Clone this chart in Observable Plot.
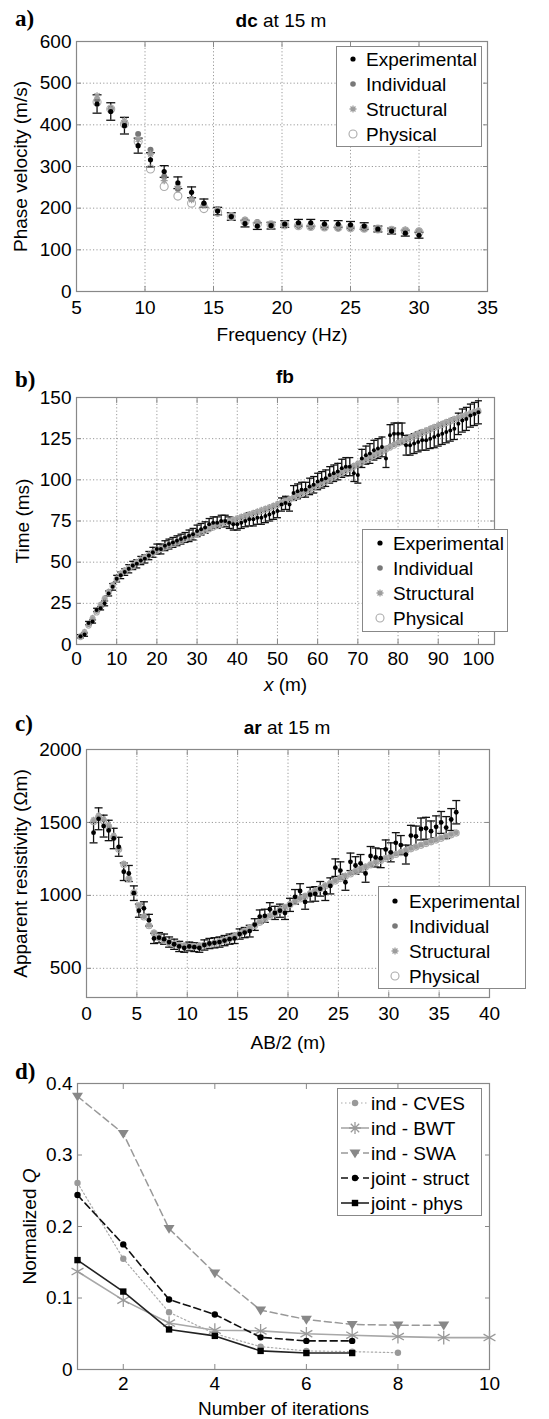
<!DOCTYPE html>
<html><head><meta charset="utf-8">
<script src="https://cdn.jsdelivr.net/npm/d3@7"></script>
<script src="https://cdn.jsdelivr.net/npm/@observablehq/plot@0.6"></script>
<style>
body{margin:0;background:#fff;}
#page{position:relative;width:549px;height:1419px;font-family:"Liberation Sans",Arial,sans-serif;color:#000;overflow:hidden;background:#fff}
.panel{position:absolute;left:0;width:549px}
.plab{position:absolute;font-family:"Liberation Serif","Times New Roman",serif;font-weight:bold;font-size:23px;line-height:1;white-space:nowrap}
.title{position:absolute;font-size:19px;line-height:1;transform:translateX(-50%);white-space:nowrap}
.legend{position:absolute;border:1px solid #888;background:#fff;box-sizing:border-box}
.ltext{position:absolute;font-size:19px;line-height:1;white-space:nowrap}
.lmark{position:absolute;overflow:visible}
</style></head>
<body><div id="page">
<div class="panel" id="pa" style="top:0px"></div>
<div class="panel" id="pb" style="top:345px"></div>
<div class="panel" id="pc" style="top:694px"></div>
<div class="panel" id="pd" style="top:1045px"></div>
</div>
<script>
// ---------------- Panel a: dc at 15 m ----------------
const freqA = [6.5,7.5,8.5,9.5,10.4,11.4,12.4,13.4,14.3,15.3,16.3,17.3,18.2,19.2,20.2,21.2,22.1,23.1,24.1,25.0,26.0,27.0,28.0,29.0,30.0];
const expA  = [450,432,398,350,316,288,261,238,212,193,180,163,157,158,162,165,165,162,162,160,157,150,145,140,135];
const errA  = [22,21,20,18,17,14,14,13,10,9,9,8,8,8,8,8,8,8,8,8,8,7,7,7,7];
const indA  = [460,440,405,378,340,276,246,222,208,198,180,173,167,162,160,157,155,153,152,152,150,150,147,147,145];
const strA  = [470,438,410,365,330,266,252,220,207,196,182,170,164,160,161,160,158,156,155,155,153,151,148,148,146];
const phyA  = [455,438,402,360,294,252,229,212,199,190,180,168,162,160,160,158,156,155,154,153,152,150,147,145,143];
const xTicksA = [5,10,15,20,25,30,35];
const yTicksA = [0,100,200,300,400,500,600];

// ---------------- Panel b: fb ----------------
const xB = [1,2,3,4,5,6,7,8,9,10,11,12,13,14,15,16,17,18,19,20,21,22,23,24,25,26,27,28,29,30,31,32,33,34,35,36,37,38,39,40,41,42,43,44,45,46,47,48,49,50,51,52,53,54,55,56,57,58,59,60,61,62,63,64,65,66,67,68,69,70,71,72,73,74,75,76,77,78,79,80,81,82,83,84,85,86,87,88,89,90,91,92,93,94,95,96,97,98,99,100];
const expB = [5,6,13,14,21,22,25,31,35,40,
  42,44,46,48,49,51,52,54,56,58,
  58,60,61,62,63,64,65,66,67,69,
  70,71,73,74,74,75,75,74,73,73,
  74,75,76,76,77,77,78,79,80,81,
  85,86,85,92,93,94,94,96,97,99,
  100,101,103,104,105,107,108,108,104,103,
  113,115,116,118,119,120,113,127,128,128,
  128,121,121,122,123,124,124,125,126,127,
  128,129,130,131,134,136,137,139,140,141];
const errB = [1,1,1,1,1,1,1.5,1.5,2,2,
  2,2,2.5,2.5,2.5,2.5,2.5,2.5,3,3,
  3,3,3,3,3,3,3,3.5,3.5,3.5,
  3.5,3.5,3.5,3.5,3.5,3.5,3.5,3.5,3.5,3.5,
  3.5,3.5,4,4,4,4,4,4,4,4,
  4,4,4,4.5,4.5,4.5,4.5,5,5,5,
  5,5,5,5,5,5.5,5.5,5.5,5,5,
  5.5,5.5,6,6,6,6,5.5,6.5,6.5,6.5,
  6.5,6,6,6,6,6,6,6,6.5,6.5,
  6.5,6.5,6.5,6.5,6.5,7,7,7,7,7];
const indB = [5,7.5,12,16,20,24,28,32,36,40,
  43,45,46.5,48,50,51.5,53,54.5,56,57.5,
  58.5,59.5,60.5,61.5,62.5,63.5,64.5,65.5,66.5,67.5,
  68.5,69.5,70.5,71.5,72.5,73.5,74.3,75,75.8,76.6,
  77.4,78.2,79,79.8,80.6,81.5,82.4,83.3,84.2,85.2,
  86.2,87.2,88.3,89.4,90.6,91.8,93,94.2,95.5,96.8,
  98.1,99.4,100.7,102,103.3,104.6,105.9,107.2,108.5,109.8,
  111.1,112.4,113.7,115,116.3,117.6,118.9,120.1,121.3,122.5,
  123.6,124.7,125.8,126.9,128,129,130,131,132,133,
  134,135,136,136.9,137.8,138.7,139.6,140.4,141.2,142];
const strB = [5.5,8,12.5,16.5,20.5,24.5,28.5,32.5,36.5,40.5,
  43.5,45.5,47,48.5,50.5,52,53.5,55,56.5,58,
  59,60,61,62,63,64,65,66,67,68,
  69,70,71,72,73,74,74.8,75.5,76.3,77.1,
  77.9,78.7,79.5,80.3,81.1,82,82.9,83.8,84.7,85.7,
  86.7,87.7,88.8,89.9,91.1,92.3,93.5,94.7,96,97.3,
  98.6,99.9,101.2,102.5,103.8,105.1,106.4,107.7,109,110.3,
  111.6,112.9,114.2,115.5,116.8,118.1,119.4,120.6,121.8,123,
  124.1,125.2,126.3,127.4,128.5,129.5,130.5,131.5,132.5,133.5,
  134.5,135.5,136.5,137.4,138.3,139.2,140.1,140.9,141.7,142.5];
const phyB = [4.5,7,11.5,15.5,19.5,23.5,27.5,31.5,35.5,39.5,
  42.5,44.5,46,47.5,49.5,51,52.5,54,55.5,57,
  58,59,60,61,62,63,64,65,66,67,
  68,69,70,71,72,73,73.8,74.5,75.3,76.1,
  76.9,77.7,78.5,79.3,80.1,81,81.9,82.8,83.7,84.7,
  85.7,86.7,87.8,88.9,90.1,91.3,92.5,93.7,95,96.3,
  97.6,98.9,100.2,101.5,102.8,104.1,105.4,106.7,108,109.3,
  110.6,111.9,113.2,114.5,115.8,117.1,118.4,119.6,120.8,122,
  123.1,124.2,125.3,126.4,127.5,128.5,129.5,130.5,131.5,132.5,
  133.5,134.5,135.5,136.4,137.3,138.2,139.1,139.9,140.7,141.5];
const xTicksB = [0,10,20,30,40,50,60,70,80,90,100];
const yTicksB = [0,25,50,75,100,125,150];

// ---------------- Panel c: ar at 15 m ----------------
const abC = [0.7,1.2,1.7,2.2,2.7,3.2,3.7,4.2,4.7,5.2,
  5.7,6.2,6.7,7.2,7.7,8.2,8.7,9.2,9.7,10.2,
  10.7,11.2,11.7,12.2,12.7,13.2,13.7,14.2,14.7,15.2,
  15.7,16.2,16.7,17.2,17.7,18.2,18.7,19.2,19.7,20.2,
  20.7,21.2,21.7,22.2,22.7,23.2,23.7,24.2,24.7,25.2,
  25.7,26.2,26.7,27.2,27.7,28.2,28.7,29.2,29.7,30.2,
  30.7,31.2,31.7,32.2,32.7,33.2,33.7,34.2,34.7,35.2,
  35.7,36.2,36.7];
const expC = [1430,1525,1475,1445,1390,1333,1162,1150,1015,895,
  911,830,705,710,700,680,665,650,640,650,
  645,640,660,670,675,680,690,700,705,735,
  745,755,800,855,860,905,880,895,880,935,
  990,1030,955,1005,1010,1045,1015,1065,1190,1170,
  1090,1230,1205,1220,1150,1270,1260,1255,1315,1295,
  1360,1345,1280,1410,1405,1455,1460,1440,1470,1500,
  1465,1520,1570];
const errC = [70,75,75,70,70,65,60,55,50,45,
  45,40,35,35,35,35,35,35,30,30,
  30,30,35,35,35,35,35,35,35,35,
  35,40,40,45,45,45,45,45,45,45,
  50,50,50,50,50,50,50,55,60,60,
  55,60,60,60,60,65,65,65,65,65,
  70,65,65,70,70,75,75,70,75,75,
  75,75,80];
const indC = [1510,1540,1515,1475,1405,1320,1215,1115,1020,930,
  855,795,745,712,692,678,668,660,655,652,
  652,655,660,666,674,683,694,706,720,738,
  757,777,797,818,839,860,880,900,920,940,
  959,978,996,1014,1032,1050,1067,1084,1101,1118,
  1134,1150,1166,1182,1197,1212,1227,1242,1256,1270,
  1283,1296,1309,1322,1334,1346,1358,1370,1382,1394,
  1406,1418,1430];
const strC = [1520,1550,1525,1485,1412,1326,1220,1118,1022,932,
  857,797,747,714,694,680,670,662,657,654,
  654,657,662,668,676,685,696,708,722,740,
  759,779,800,821,842,863,883,903,923,943,
  962,981,999,1017,1035,1053,1070,1087,1104,1121,
  1137,1153,1169,1185,1200,1215,1230,1245,1259,1273,
  1286,1299,1312,1325,1337,1349,1361,1373,1385,1397,
  1409,1421,1433];
const phyC = [1505,1535,1510,1470,1400,1316,1212,1112,1018,928,
  852,792,742,709,690,676,666,658,653,650,
  650,653,658,664,672,681,692,704,717,735,
  754,774,794,815,836,857,877,897,917,937,
  956,975,993,1011,1029,1047,1064,1081,1098,1115,
  1131,1147,1163,1179,1194,1209,1224,1239,1253,1267,
  1280,1293,1306,1319,1331,1343,1355,1367,1379,1391,
  1403,1415,1427];
const xTicksC = [0,5,10,15,20,25,30,35,40];
const yTicksC = [500,1000,1500,2000];

// ---------------- Panel d: convergence ----------------
const iterCVES = [1,2,3,4,5,6,7,8];
const qCVES    = [0.261,0.155,0.080,0.050,0.032,0.026,0.025,0.0235];
const iterBWT  = [1,2,3,4,5,6,7,8,9,10];
const qBWT     = [0.137,0.097,0.065,0.055,0.054,0.050,0.048,0.046,0.0446,0.0446];
const iterSWA  = [1,2,3,4,5,6,7,8,9];
const qSWA     = [0.382,0.330,0.197,0.135,0.083,0.070,0.063,0.062,0.062];
const iterStruct = [1,2,3,4,5,6,7];
const qStruct    = [0.244,0.175,0.098,0.077,0.045,0.040,0.040];
const iterPhys   = [1,2,3,4,5,6,7];
const qPhys      = [0.153,0.109,0.056,0.047,0.026,0.023,0.023];
const xTicksD = [2,4,6,8,10];
const yTicksD = [0,0.1,0.2,0.3,0.4];

const fitLegend = ["Experimental","Individual","Structural","Physical"];
const convLegend = ["ind - CVES","ind - BWT","ind - SWA","joint - struct","joint - phys"];

// ---------------- helpers ----------------
const CAP = {draw(ctx, size){ const r = Math.sqrt(size/Math.PI); ctx.moveTo(-r,0); ctx.lineTo(r,0); }};
const STAR = {draw(ctx, size){ const r = Math.sqrt(size/Math.PI);
  for (let k = 0; k < 4; k++) { const a = k*Math.PI/4; ctx.moveTo(-r*Math.cos(a), -r*Math.sin(a)); ctx.lineTo(r*Math.cos(a), r*Math.sin(a)); } }};
const TRI_DOWN = {draw(ctx, size){ const r = Math.sqrt(size/Math.PI);
  ctx.moveTo(-r, -r*0.65); ctx.lineTo(r, -r*0.65); ctx.lineTo(0, r*0.95); ctx.closePath(); }};
const GRID = {stroke:"#9a9a9a", strokeOpacity:1, strokeDasharray:"1.2,2.2", strokeWidth:1};
const fmt = d => String(d);

function axisMarks(o){
  const m = [];
  if (o.grid) m.push(Plot.gridX(o.xt, GRID), Plot.gridY(o.yt, GRID));
  m.push(Plot.frame({stroke:"#888", strokeWidth:1.2}));
  m.push(Plot.axisX(o.xt, {anchor:"bottom", tickSize:-5, tickPadding:o.xPad+5, stroke:"#888", tickFormat:fmt,
    label:o.xlab, labelAnchor:"center", labelOffset:o.xLabOff, labelArrow:"none"}));
  m.push(Plot.axisX(o.xt, {anchor:"top", tickSize:-5, stroke:"#888", tickFormat:() => "", label:null}));
  m.push(Plot.axisY(o.yt, {anchor:"left", tickSize:-5, tickPadding:o.yPad+5, stroke:"#888", tickFormat:fmt,
    label:o.ylab, labelAnchor:"center", labelOffset:o.yLabOff, labelArrow:"none"}));
  m.push(Plot.axisY(o.yt, {anchor:"right", tickSize:-5, stroke:"#888", tickFormat:() => "", label:null}));
  return m;
}

function fitMarks(rows, capR, s){
  return [
    Plot.ruleX(rows, {x:"x", y1:"lo", y2:"hi", stroke:"#111", strokeWidth:1.3}),
    Plot.dot(rows, {x:"x", y:"lo", symbol:CAP, r:capR, stroke:"#111", strokeWidth:1.3, fill:"none"}),
    Plot.dot(rows, {x:"x", y:"hi", symbol:CAP, r:capR, stroke:"#111", strokeWidth:1.3, fill:"none"}),
    Plot.dot(rows, {x:"x", y:"ind", r:s.ind, fill:"#787878", stroke:"none"}),
    Plot.dot(rows, {x:"x", y:"str", r:s.str, symbol:STAR, stroke:"#9c9c9c", strokeWidth:1.3, fill:"none"}),
    Plot.dot(rows, {x:"x", y:"phy", r:s.phy, stroke:"#ababab", fill:"none", strokeWidth:1.1}),
    Plot.dot(rows, {x:"x", y:"e", r:s.exp, fill:"#000", stroke:"none"})
  ];
}

function buildRows(xs, e, err, ind, str, phy){
  return xs.map((x,i) => ({x, e:e[i], lo:e[i]-err[i], hi:e[i]+err[i], ind:ind[i], str:str[i], phy:phy[i]}));
}

const STYLE = {fontFamily:"'Liberation Sans', Arial, sans-serif", fontSize:"19px", color:"#000", background:"transparent", overflow:"visible"};

// ---------------- Panel a ----------------
const plotA = Plot.plot({
  width:549, height:345, marginTop:41, marginBottom:54, marginLeft:76, marginRight:62, style:STYLE,
  x:{domain:[5,35]}, y:{domain:[0,600]},
  marks:[
    ...axisMarks({grid:true, xt:xTicksA, yt:yTicksA, xPad:9, yPad:5, xlab:"Frequency (Hz)", xLabOff:49, ylab:"Phase velocity (m/s)", yLabOff:63}),
    ...fitMarks(buildRows(freqA, expA, errA, indA, strA, phyA), 4.5, {ind:3, str:3.5, phy:4, exp:2.6})
  ]
});
document.getElementById("pa").append(plotA);

// ---------------- Panel b ----------------
const plotB = Plot.plot({
  width:549, height:349, marginTop:52, marginBottom:50, marginLeft:76, marginRight:55, style:STYLE,
  x:{domain:[0,104]}, y:{domain:[0,150]},
  marks:[
    ...axisMarks({grid:true, xt:xTicksB, yt:yTicksB, xPad:7, yPad:5, xlab:"x (m)", xLabOff:46, ylab:"Time (ms)", yLabOff:61}),
    ...fitMarks(buildRows(xB, expB, errB, indB, strB, phyB), 3.5, {ind:2.2, str:2.6, phy:2.6, exp:2})
  ]
});
document.getElementById("pb").append(plotB);

// ---------------- Panel c ----------------
const plotC = Plot.plot({
  width:549, height:351, marginTop:55, marginBottom:48, marginLeft:86, marginRight:60, style:STYLE,
  x:{domain:[0,40]}, y:{domain:[300,2000]},
  marks:[
    ...axisMarks({grid:true, xt:xTicksC, yt:yTicksC, xPad:9, yPad:5, xlab:"AB/2 (m)", xLabOff:51, ylab:"Apparent resistivity (\u03A9m)", yLabOff:73}),
    ...fitMarks(buildRows(abC, expC, errC, indC, strC, phyC), 4, {ind:2.2, str:2.8, phy:3, exp:2.4})
  ]
});
document.getElementById("pc").append(plotC);

// ---------------- Panel d ----------------
const mk = (xs, ys) => xs.map((x,i) => ({x, y:ys[i]}));
const dCVES = mk(iterCVES, qCVES), dBWT = mk(iterBWT, qBWT), dSWA = mk(iterSWA, qSWA), dStruct = mk(iterStruct, qStruct), dPhys = mk(iterPhys, qPhys);
const plotD = Plot.plot({
  width:549, height:374, marginTop:38, marginBottom:50, marginLeft:77, marginRight:60, style:STYLE,
  x:{domain:[1,10]}, y:{domain:[0,0.4]},
  marks:[
    ...axisMarks({grid:false, xt:xTicksD, yt:yTicksD, xPad:7, yPad:5, xlab:"Number of iterations", xLabOff:45, ylab:"Normalized Q", yLabOff:55}),
    Plot.line(dCVES, {x:"x", y:"y", stroke:"#aaa", strokeWidth:1.2, strokeDasharray:"1.5,2.5"}),
    Plot.dot(dCVES, {x:"x", y:"y", r:3.2, fill:"#999", stroke:"none"}),
    Plot.line(dBWT, {x:"x", y:"y", stroke:"#a8a8a8", strokeWidth:1.6}),
    Plot.dot(dBWT, {x:"x", y:"y", r:6.5, symbol:"asterisk", stroke:"#999", strokeWidth:1.3, fill:"none"}),
    Plot.line(dSWA, {x:"x", y:"y", stroke:"#999", strokeWidth:1.5, strokeDasharray:"7,4"}),
    Plot.dot(dSWA, {x:"x", y:"y", r:5.5, symbol:TRI_DOWN, fill:"#888", stroke:"none"}),
    Plot.line(dStruct, {x:"x", y:"y", stroke:"#111", strokeWidth:1.6, strokeDasharray:"7,4"}),
    Plot.dot(dStruct, {x:"x", y:"y", r:3.2, fill:"#000", stroke:"none"}),
    Plot.line(dPhys, {x:"x", y:"y", stroke:"#222", strokeWidth:1.6}),
    Plot.dot(dPhys, {x:"x", y:"y", r:3.6, symbol:"square", fill:"#000", stroke:"none"})
  ]
});
document.getElementById("pd").append(plotD);

// italic parts of axis labels
function italicize(svg, sel, ital, rest, first){
  const t = svg.querySelector(sel + " text");
  if (!t) return;
  t.textContent = "";
  const NS = "http://www.w3.org/2000/svg";
  const a = document.createElementNS(NS, "tspan"), b = document.createElementNS(NS, "tspan");
  if (first) { a.textContent = ital; a.setAttribute("font-style","italic"); b.textContent = rest; t.append(a, b); }
  else { a.textContent = rest; b.textContent = ital; b.setAttribute("font-style","italic"); t.append(a, b); }
}
italicize(plotB, 'g[aria-label="x-axis label"]', "x", " (m)", true);
italicize(plotD, 'g[aria-label="y-axis label"]', "Q", "Normalized ", false);

// ---------------- HTML text: panel labels, titles, legends ----------------
const page = document.getElementById("page");
function addDiv(cls, html, left, top){ const d = document.createElement("div"); d.className = cls; d.innerHTML = html; d.style.left = left+"px"; d.style.top = top+"px"; page.append(d); return d; }
addDiv("plab", "a)", 15, 7);
addDiv("plab", "b)", 15, 368);
addDiv("plab", "c)", 15, 712);
addDiv("plab", "d)", 15, 1060);
addDiv("title", "<b>dc</b> at 15 m", 281, 11);
addDiv("title", "<b>fb</b>", 285, 367);
addDiv("title", "<b>ar</b> at 15 m", 287, 718);

function markerSVG(kind){
  const s = {
    exp:'<circle r="2.6" fill="#000"/>',
    ind:'<circle r="2.8" fill="#787878"/>',
    str:'<path d="M-3.5,0L3.5,0M0,-3.5L0,3.5M-2.5,-2.5L2.5,2.5M-2.5,2.5L2.5,-2.5" stroke="#9c9c9c" stroke-width="1.3"/>',
    phy:'<circle r="4" fill="none" stroke="#ababab" stroke-width="1.1"/>',
    cves:'<line x1="-14" x2="14" stroke="#aaa" stroke-width="1.2" stroke-dasharray="1.5,2.5"/><circle r="3.2" fill="#999"/>',
    bwt:'<line x1="-14" x2="14" stroke="#a8a8a8" stroke-width="1.6"/><path d="M-6,0L6,0M0,-6L0,6M-4.2,-4.2L4.2,4.2M-4.2,4.2L4.2,-4.2" stroke="#999" stroke-width="1.3"/>',
    swa:'<line x1="-14" x2="14" stroke="#999" stroke-width="1.5" stroke-dasharray="7,4"/><path d="M-5.5,-3.6L5.5,-3.6L0,5.2Z" fill="#888"/>',
    struct:'<line x1="-14" x2="14" stroke="#111" stroke-width="1.6" stroke-dasharray="7,4"/><circle r="3.2" fill="#000"/>',
    phys:'<line x1="-14" x2="14" stroke="#222" stroke-width="1.6"/><rect x="-3.2" y="-3.2" width="6.4" height="6.4" fill="#000"/>'
  }[kind];
  return `<svg width="40" height="20" viewBox="-20 -10 40 20" style="overflow:visible">${s}</svg>`;
}
function legend(box, rows, labels, kinds, markX, textX){
  const L = document.createElement("div"); L.className = "legend";
  L.style.left = box[0]+"px"; L.style.top = box[1]+"px"; L.style.width = (box[2]-box[0])+"px"; L.style.height = (box[3]-box[1])+"px";
  page.append(L);
  labels.forEach((lab,i) => {
    const m = document.createElement("div"); m.className = "lmark"; m.innerHTML = markerSVG(kinds[i]);
    m.style.left = (markX-20)+"px"; m.style.top = (rows[i]-10)+"px"; page.append(m);
    const t = document.createElement("div"); t.className = "ltext"; t.textContent = lab;
    t.style.left = textX+"px"; t.style.top = (rows[i]-9.5)+"px"; page.append(t);
  });
}
const fitKinds = ["exp","ind","str","phy"];
legend([336,46,482,147], [59,84,109,134], fitLegend, fitKinds, 353, 366);
legend([362,529,508,632], [543,568,593,618], fitLegend, fitKinds, 380, 393);
legend([378,886,526,989], [901,926,951,976], fitLegend, fitKinds, 395, 409);
legend([337,1088,482,1216], [1103,1128,1153,1178,1203], convLegend, ["cves","bwt","swa","struct","phys"], 355, 371);
</script>
</body></html>
